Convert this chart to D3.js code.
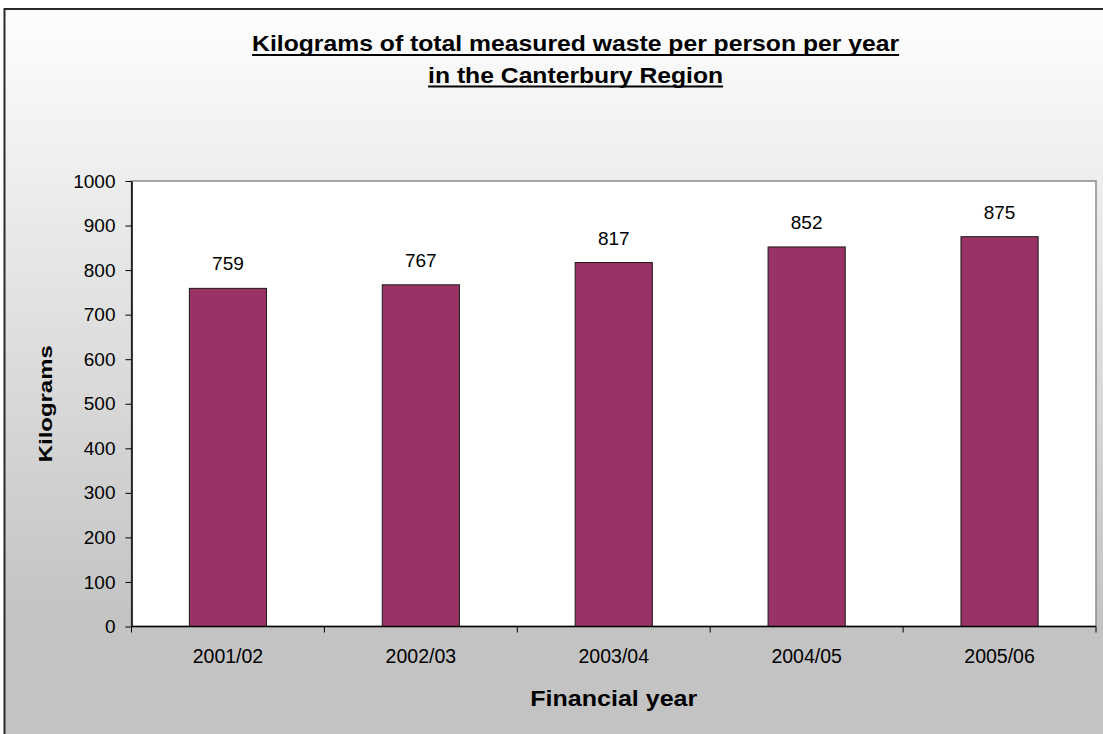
<!DOCTYPE html>
<html>
<head>
<meta charset="utf-8">
<script src="https://cdn.jsdelivr.net/npm/d3@7"></script>
<style>
    html, body { margin:0; padding:0; background:#ffffff; overflow:hidden; }
    svg { display:block; font-family:Arial, "Liberation Sans", sans-serif; }
</style>
</head>
<body>
<svg id="chart" width="1103" height="734"></svg>
<script>
// data
const years = ["2001/02", "2002/03", "2003/04", "2004/05", "2005/06"];
const kilograms = [759, 767, 817, 852, 875];
const yTicks = [0, 100, 200, 300, 400, 500, 600, 700, 800, 900, 1000];
const titleLines = ["Kilograms of total measured waste per person per year", "in the Canterbury Region"];

const width = 1103;
const height = 734;
const margin = { top:181, bottom:107, left:131.5, right:7 };
const barFill = "#993366";
const fontFamily = 'Arial, "Liberation Sans", sans-serif';

const svg = d3.select("#chart");

//bg gradient
const grad = svg.append("defs").append("linearGradient")
    .attr("id", "bg-grad")
    .attr("gradientUnits", "userSpaceOnUse")
    .attr("x1", 0).attr("y1", 9)
    .attr("x2", 0).attr("y2", 620);
grad.append("stop").attr("offset", 0).attr("stop-color", "#fefefe");
grad.append("stop").attr("offset", 1).attr("stop-color", "#c3c3c3");

svg.append("rect")
    .attr("x", 4.5)
    .attr("y", 9)
    .attr("width", width + 20)
    .attr("height", height + 20)
    .attr("fill", "url(#bg-grad)")
    .attr("stroke", "#2a2a2a")
    .attr("stroke-width", 2);

// scales
const x = d3.scaleBand()
    .domain(years)
    .range([margin.left, width - margin.right])
    .paddingInner(0.6)
    .paddingOuter(0.3);

const y = d3.scaleLinear()
    .domain([0, 1000])
    .range([height - margin.bottom - 0.5, margin.top]);

//plot area
svg.append("rect")
    .attr("class", "plot-bg")
    .attr("x", margin.left)
    .attr("y", margin.top)
    .attr("width", width - margin.right - margin.left)
    .attr("height", y(0) - margin.top)
    .attr("fill", "#ffffff")
    .attr("stroke", "#8a8a8a")
    .attr("stroke-width", 1.5);

//bars
svg.append("g").attr("class", "bars")
    .selectAll("rect")
    .data(kilograms)
    .join("rect")
        .attr("x", (d,i) => x(years[i]))
        .attr("y", d => y(d))
        .attr("width", x.bandwidth())
        .attr("height", d => y(0) - y(d))
        .attr("fill", barFill)
        .attr("stroke", "#1a1a1a")
        .attr("stroke-width", 1);

//value labels
svg.append("g").attr("class", "values")
    .selectAll("text")
    .data(kilograms)
    .join("text")
        .attr("x", (d,i) => x(years[i]) + x.bandwidth() / 2)
        .attr("y", d => y(d) - 18)
        .attr("text-anchor", "middle")
        .attr("font-size", 19)
        .attr("fill", "#000")
        .text(d => d);

// y axis
const yAxisG = svg.append("g")
    .attr("class", "y-axis")
    .attr("transform", `translate(${margin.left},0)`)
    .call(d3.axisLeft(y).tickValues(yTicks).tickFormat(d3.format("d"))
        .tickSize(6).tickSizeOuter(0).tickPadding(10))
    .attr("font-family", fontFamily);
yAxisG.select(".domain").attr("stroke", "#000").attr("stroke-width", 1.5);
yAxisG.selectAll(".tick line").attr("stroke", "#000");
yAxisG.selectAll(".tick text")
    .attr("font-size", 19)
    .attr("fill", "#000");

// x axis - labels under bars, ticks between categories
const xAxisG = svg.append("g")
    .attr("class", "x-axis")
    .attr("transform", `translate(0,${y(0)})`)
    .call(d3.axisBottom(x).tickSize(0).tickSizeOuter(0))
    .attr("font-family", fontFamily);
xAxisG.select(".domain").remove();
xAxisG.selectAll(".tick text")
    .attr("y", 36)
    .attr("dy", null)
    .attr("font-size", 19.5)
    .attr("fill", "#000");

xAxisG.append("line")
    .attr("x1", x.range()[0])
    .attr("x2", x.range()[1])
    .attr("stroke", "#000")
    .attr("stroke-width", 1.5);

xAxisG.selectAll("line.divider")
    .data(d3.range(years.length + 1))
    .join("line")
        .attr("class", "divider")
        .attr("x1", i => x.range()[0] + i * x.step())
        .attr("x2", i => x.range()[0] + i * x.step())
        .attr("y1", 0)
        .attr("y2", 6)
        .attr("stroke", "#000");

// axis titles
svg.append("text")
    .attr("transform", `translate(52,${(margin.top + y(0)) / 2}) rotate(-90)`)
    .attr("text-anchor", "middle")
    .attr("font-size", 19)
    .attr("font-weight", "bold")
    .attr("textLength", 117)
    .attr("lengthAdjust", "spacingAndGlyphs")
    .text("Kilograms");

svg.append("text")
    .attr("x", (x.range()[0] + x.range()[1]) / 2)
    .attr("y", 705.5)
    .attr("text-anchor", "middle")
    .attr("font-size", 22.5)
    .attr("font-weight", "bold")
    .attr("textLength", 167)
    .attr("lengthAdjust", "spacingAndGlyphs")
    .text("Financial year");

//title, underlined
const titleX = 575.6;
const titleBaselines = [51, 82.5];
const titleWidths = [647, 295];
const titleG = svg.append("g").attr("class", "title");
titleLines.forEach((line, i) => {
    titleG.append("text")
        .attr("x", titleX)
        .attr("y", titleBaselines[i])
        .attr("text-anchor", "middle")
        .attr("font-size", 21.5)
        .attr("font-weight", "bold")
        .attr("textLength", titleWidths[i])
        .attr("lengthAdjust", "spacingAndGlyphs")
        .text(line);
    titleG.append("line")
        .attr("x1", titleX - titleWidths[i] / 2)
        .attr("x2", titleX + titleWidths[i] / 2)
        .attr("y1", titleBaselines[i] + 4)
        .attr("y2", titleBaselines[i] + 4)
        .attr("stroke", "#000")
        .attr("stroke-width", 2);
});
</script>
</body>
</html>
